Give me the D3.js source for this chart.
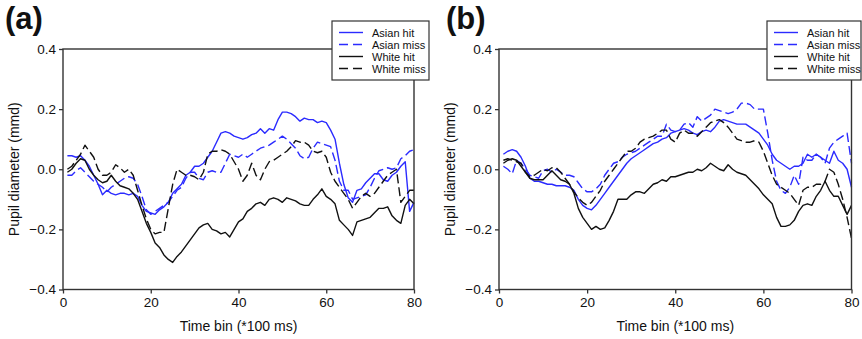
<!DOCTYPE html>
<html>
<head>
<meta charset="utf-8">
<script src="https://cdn.jsdelivr.net/npm/d3@7"></script>
<style>
  html, body { margin: 0; padding: 0; background: #fff; }
  svg { display: block; font-family: "Liberation Sans", Arial, sans-serif; }
</style>
</head>
<body>
<svg id="chart" width="862" height="339"></svg>
<script>
// time bins (*100 ms), one value per bin 1..80
const timeBins = d3.range(1, 81);
const xTicks = [0, 20, 40, 60, 80];
const yTicks = [-0.4, -0.2, 0.0, 0.2, 0.4];

// panel (a)
const aAsianHit = [0.045,0.045,0.04,0.045,0.03,0.01,-0.02,-0.05,-0.085,-0.07,-0.08,-0.085,-0.08,-0.08,-0.085,-0.08,-0.09,-0.12,-0.14,-0.145,
  -0.15,-0.135,-0.125,-0.11,-0.08,-0.065,-0.05,-0.02,-0.01,0.01,0.01,0.02,0.04,0.06,0.09,0.12,0.125,0.12,0.11,0.105,
  0.10,0.105,0.115,0.12,0.135,0.12,0.135,0.13,0.165,0.19,0.19,0.185,0.175,0.16,0.17,0.165,0.165,0.155,0.16,0.155,
  0.13,0.10,0.02,-0.05,-0.095,-0.11,-0.07,-0.065,-0.045,-0.03,-0.015,-0.015,-0.035,-0.04,-0.02,-0.01,0.01,0.025,-0.14,-0.11];
const aAsianMiss = [-0.02,-0.02,-0.005,0.005,-0.01,-0.025,-0.04,-0.05,-0.06,-0.075,-0.06,-0.05,-0.04,-0.03,-0.025,-0.03,-0.05,-0.09,-0.135,-0.15,
  -0.14,-0.13,-0.12,-0.11,-0.09,-0.07,-0.06,-0.03,-0.01,-0.01,-0.03,-0.035,-0.01,-0.005,-0.01,-0.01,0.02,0.05,0.045,0.04,
  0.05,0.04,0.05,0.06,0.07,0.075,0.08,0.09,0.10,0.11,0.10,0.085,0.07,0.045,0.035,0.04,0.07,0.09,0.085,0.08,
  0.075,0.03,-0.04,-0.07,-0.07,-0.10,-0.095,-0.09,-0.085,-0.06,-0.03,-0.005,0.0,0.005,0.0,0.005,0.035,0.045,0.06,0.065];
const aWhiteHit = [-0.01,0.0,0.02,0.035,0.03,0.0,-0.02,-0.035,-0.045,-0.04,-0.02,-0.04,-0.055,-0.06,-0.065,-0.08,-0.1,-0.14,-0.18,-0.21,
  -0.245,-0.26,-0.285,-0.30,-0.31,-0.29,-0.275,-0.255,-0.235,-0.215,-0.195,-0.185,-0.18,-0.2,-0.205,-0.215,-0.21,-0.225,-0.2,-0.175,
  -0.165,-0.14,-0.13,-0.115,-0.11,-0.12,-0.1,-0.095,-0.1,-0.11,-0.095,-0.1,-0.105,-0.115,-0.12,-0.12,-0.1,-0.085,-0.065,-0.09,
  -0.1,-0.115,-0.17,-0.185,-0.2,-0.22,-0.175,-0.17,-0.165,-0.16,-0.145,-0.13,-0.13,-0.125,-0.155,-0.17,-0.18,-0.12,-0.1,-0.115];
const aWhiteMiss = [0.0,0.01,0.03,0.05,0.08,0.06,0.04,0.0,-0.02,-0.02,-0.01,0.015,0.005,-0.01,0.0,-0.02,-0.07,-0.12,-0.165,-0.2,
  -0.215,-0.21,-0.21,-0.13,-0.05,0.0,-0.01,-0.02,-0.02,-0.025,-0.035,-0.01,0.05,0.06,0.06,0.065,0.06,0.05,0.025,0.0,
  -0.04,-0.02,0.02,-0.02,-0.035,0.0,0.025,0.03,0.04,0.05,0.06,0.075,0.095,0.09,0.09,0.08,0.06,0.055,0.06,0.04,
  -0.01,-0.04,-0.06,-0.08,-0.1,-0.13,-0.11,-0.09,-0.08,-0.09,-0.08,-0.06,-0.04,-0.02,-0.01,0.0,-0.11,-0.09,-0.07,-0.07];

// panel (b)
const bAsianHit = [0.05,0.06,0.065,0.06,0.04,0.01,-0.03,-0.04,-0.04,-0.045,-0.05,-0.05,-0.055,-0.055,-0.055,-0.06,-0.07,-0.1,-0.12,-0.13,
  -0.135,-0.12,-0.1,-0.08,-0.06,-0.04,-0.02,0.0,0.02,0.035,0.045,0.055,0.065,0.075,0.085,0.09,0.1,0.105,0.12,0.125,
  0.13,0.135,0.13,0.12,0.115,0.125,0.13,0.125,0.14,0.16,0.165,0.16,0.155,0.15,0.15,0.15,0.14,0.13,0.12,0.1,
  0.08,0.05,0.03,0.02,0.01,0.0,0.01,0.01,0.02,0.05,0.04,0.05,0.04,0.03,0.02,0.06,0.03,0.02,0.0,-0.06];
const bAsianMiss = [0.01,0.0,-0.015,0.03,0.02,0.0,-0.02,-0.025,-0.03,-0.005,0.0,-0.01,0.0,-0.01,-0.02,-0.02,-0.025,-0.045,-0.065,-0.075,
  -0.075,-0.065,-0.05,-0.02,0.0,0.02,0.025,0.04,0.05,0.055,0.06,0.07,0.08,0.09,0.10,0.11,0.11,0.15,0.13,0.125,
  0.13,0.15,0.155,0.14,0.175,0.16,0.17,0.18,0.2,0.195,0.19,0.185,0.19,0.2,0.22,0.22,0.215,0.2,0.2,0.2,
  0.12,0.03,-0.04,-0.07,-0.08,-0.06,-0.02,-0.05,0.04,0.03,0.03,0.05,0.04,0.02,0.07,0.09,0.10,0.11,0.12,0.02];
const bWhiteHit = [0.02,0.03,0.035,0.03,0.01,-0.01,-0.03,-0.035,-0.035,-0.035,-0.02,-0.005,-0.02,-0.035,-0.04,-0.05,-0.08,-0.13,-0.16,-0.18,
  -0.2,-0.19,-0.2,-0.195,-0.17,-0.14,-0.1,-0.1,-0.1,-0.085,-0.075,-0.075,-0.08,-0.065,-0.05,-0.045,-0.035,-0.04,-0.025,-0.025,
  -0.02,-0.015,-0.01,-0.01,0.0,-0.005,0.005,0.02,0.01,0.0,-0.005,0.015,0.0,-0.01,-0.015,-0.02,-0.035,-0.05,-0.065,-0.085,
  -0.1,-0.115,-0.16,-0.19,-0.19,-0.185,-0.17,-0.14,-0.12,-0.115,-0.12,-0.09,-0.07,-0.04,-0.07,-0.09,-0.09,-0.12,-0.15,-0.12];
const bWhiteMiss = [0.03,0.035,0.03,0.025,0.02,-0.01,-0.025,-0.02,-0.01,0.0,-0.005,0.005,0.005,-0.01,-0.03,-0.05,-0.075,-0.095,-0.11,-0.12,
  -0.11,-0.09,-0.07,-0.04,-0.02,0.0,0.02,0.04,0.06,0.06,0.07,0.09,0.1,0.105,0.11,0.12,0.13,0.13,0.1,0.09,
  0.12,0.13,0.12,0.12,0.11,0.125,0.14,0.155,0.16,0.165,0.155,0.14,0.12,0.1,0.095,0.09,0.09,0.095,0.09,0.06,
  0.02,-0.02,-0.05,-0.06,-0.07,-0.08,-0.1,-0.12,-0.07,-0.06,-0.06,-0.05,-0.05,-0.04,0.0,-0.01,-0.05,-0.1,-0.16,-0.23];

const seriesNames = ['Asian hit', 'Asian miss', 'White hit', 'White miss'];
const seriesStyle = {
  'Asian hit': { color: '#2b2bff', dash: null },
  'Asian miss': { color: '#2b2bff', dash: '9,4' },
  'White hit': { color: '#111', dash: null },
  'White miss': { color: '#111', dash: '9,4' }
};

const panels = [
  { label: '(a)', series: [aAsianHit, aAsianMiss, aWhiteHit, aWhiteMiss], left: 63, right: 414, labelX: 5, legend: { x: 332, w: 97 } },
  { label: '(b)', series: [bAsianHit, bAsianMiss, bWhiteHit, bWhiteMiss], left: 499, right: 851.5, labelX: 446, legend: { x: 767, w: 94 } }
];

const svg = d3.select('#chart');
const plotTop = 49, plotBottom = 289.5;
const axisColor = '#333';

panels.forEach((p) => {
  const x = d3.scaleLinear().domain([0, 80]).range([p.left, p.right]);
  const y = d3.scaleLinear().domain([-0.4, 0.4]).range([plotBottom, plotTop]);
  const g = svg.append('g');

  // panel letter
  g.append('text').attr('x', p.labelX).attr('y', 29).attr('font-size', 31).attr('font-weight', 'bold').attr('fill', '#111').text(p.label);

  // series lines
  const line = d3.line().x((d, i) => x(timeBins[i])).y((d) => y(d));
  p.series.forEach((values, k) => {
    const st = seriesStyle[seriesNames[k]];
    g.append('path').attr('d', line(values)).attr('fill', 'none').attr('stroke', st.color)
      .attr('stroke-width', 1.4).attr('stroke-dasharray', st.dash).attr('stroke-linejoin', 'round');
  });

  // axes
  const xAxis = g.append('g').attr('transform', `translate(0,${plotBottom})`)
    .call(d3.axisBottom(x).tickValues(xTicks).tickSize(4).tickPadding(4).tickFormat(d3.format('d')));
  const yAxis = g.append('g').attr('transform', `translate(${p.left},0)`)
    .call(d3.axisLeft(y).tickValues(yTicks).tickSize(4).tickPadding(3).tickFormat((v) => (v < 0 ? '\u2212' : '') + Math.abs(v).toFixed(1)));
  [xAxis, yAxis].forEach((a) => {
    a.select('.domain').remove();
    a.selectAll('line').attr('stroke', axisColor).attr('stroke-width', 1.3);
    a.selectAll('text').attr('font-size', 13.5).attr('fill', '#111').attr('font-family', '"Liberation Sans", Arial, sans-serif');
  });

  // frame
  g.append('rect').attr('x', p.left).attr('y', plotTop).attr('width', p.right - p.left).attr('height', plotBottom - plotTop)
    .attr('fill', 'none').attr('stroke', axisColor).attr('stroke-width', 1.4);

  // axis titles
  g.append('text').attr('x', (p.left + p.right) / 2).attr('y', 331).attr('text-anchor', 'middle')
    .attr('font-size', 14).attr('fill', '#111').text('Time bin (*100 ms)');
  g.append('text').attr('transform', `translate(${p.left - 44},${(plotTop + plotBottom) / 2}) rotate(-90)`)
    .attr('text-anchor', 'middle').attr('font-size', 14).attr('fill', '#111').text('Pupil diameter (mmd)');

  // legend
  const lg = g.append('g').attr('transform', `translate(${p.legend.x},21)`);
  lg.append('rect').attr('width', p.legend.w).attr('height', 59).attr('fill', '#fff').attr('stroke', axisColor).attr('stroke-width', 1.2);
  seriesNames.forEach((name, k) => {
    const st = seriesStyle[name];
    const yy = 11.5 + k * 12;
    lg.append('line').attr('x1', 7).attr('x2', 31).attr('y1', yy).attr('y2', yy).attr('stroke', st.color)
      .attr('stroke-width', 1.4).attr('stroke-dasharray', name.endsWith('miss') ? '9,5' : null);
    lg.append('text').attr('x', 40).attr('y', yy + 4).attr('font-size', 11).attr('fill', '#111').text(name);
  });
});
</script>
</body>
</html>
